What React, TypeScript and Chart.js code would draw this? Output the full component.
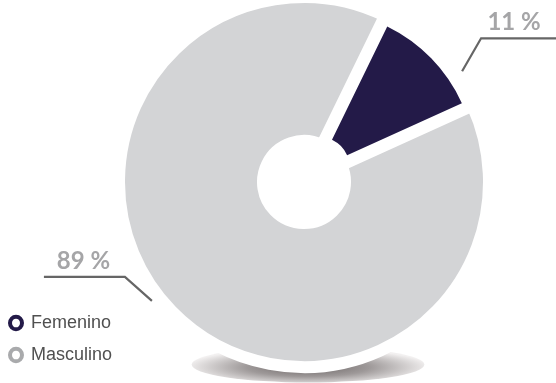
import React, { useEffect, useRef } from "react";
import { Chart, registerables } from "chart.js";

Chart.register(...registerables);

// ---- data ----
const categories = ["Masculino", "Femenino"];
const values = [89, 11];
const percentLabels = ["89 %", "11 %"];

// ---- styles ----
const sliceColors = ["#d3d4d6", "#231a48"];
const legendRingColors = ["#a9aaac", "#231a48"];
const EXPLODED_INDEX = 1;
const FEM_START_DEG = 26;

const CENTER_X = 304;
const CENTER_Y = 182;
const OUTER_R = 179;
const INNER_R = 47;
const GAP = 12;
const EXPLODE = 19.5;
const EXPLODED_OUTER = 158;
const EXPLODED_INNER = 32;

const LABEL_ANGLES = [232, 55];
const LEADER_GAP = 14;
const ELBOWS = [
  { dx: -27, dy: -24, len: -81, tshift: -1 },
  { dx: 19, dy: -33, len: 76, tshift: -5 },
];

const total = values.reduce((a, b) => a + b, 0);
const rotation = FEM_START_DEG - (values[0] / total) * 360;

const geometryPlugin = {
  id: "geometry",
  afterDatasetsUpdate(chart: any) {
    const meta = chart.getDatasetMeta(0);
    meta.data.forEach((el: any, i: number) => {
      if (i === EXPLODED_INDEX) {
        const mid = (el.startAngle + el.endAngle) / 2;
        el.x = CENTER_X + EXPLODE * Math.cos(mid);
        el.y = CENTER_Y + EXPLODE * Math.sin(mid);
        el.outerRadius = EXPLODED_OUTER;
        el.innerRadius = EXPLODED_INNER;
      } else {
        el.x = CENTER_X;
        el.y = CENTER_Y;
        el.outerRadius = OUTER_R + GAP / 2;
        el.innerRadius = INNER_R - GAP / 2;
      }
    });
  },
  beforeDatasetsDraw(chart: any) {
    const ctx = chart.ctx;
    const cx = CENTER_X + 4;
    const cy = CENTER_Y + OUTER_R * 1.02;
    const rx = OUTER_R * 0.65;
    const ry = OUTER_R * 0.1;
    ctx.save();
    ctx.translate(cx, cy);
    ctx.scale(1, ry / rx);
    const g = ctx.createRadialGradient(0, rx * 0.15, 0, 0, rx * 0.15, rx * 1.05);
    g.addColorStop(0, "#6c6666");
    g.addColorStop(0.5, "#9e9999");
    g.addColorStop(1, "#f2f0f0");
    ctx.fillStyle = g;
    ctx.beginPath();
    ctx.arc(0, 0, rx, 0, Math.PI * 2);
    ctx.fill();
    ctx.restore();
  },
  afterDatasetsDraw(chart: any) {
    const ctx = chart.ctx;
    ctx.save();
    percentLabels.forEach((txt, i) => {
      const a = ((LABEL_ANGLES[i] - 90) * Math.PI) / 180;
      const r = OUTER_R + LEADER_GAP;
      const sx = CENTER_X + r * Math.cos(a);
      const sy = CENTER_Y + r * Math.sin(a);
      const ex = sx + ELBOWS[i].dx;
      const ey = sy + ELBOWS[i].dy;
      const hx = ex + ELBOWS[i].len;
      ctx.strokeStyle = "#666666";
      ctx.lineWidth = 2.2;
      ctx.beginPath();
      ctx.moveTo(sx, sy);
      ctx.lineTo(ex, ey);
      ctx.lineTo(hx, ey);
      ctx.stroke();
      ctx.fillStyle = "#a5a5a7";
      ctx.font = "bold 24px Lato, 'Open Sans', sans-serif";
      ctx.textAlign = "center";
      ctx.textBaseline = "alphabetic";
      ctx.fillText(txt, (ex + hx) / 2 + ELBOWS[i].tshift, ey - 8);
    });
    ctx.restore();
  },
};

export default function App() {
  const ref = useRef<HTMLCanvasElement | null>(null);
  useEffect(() => {
    document.body.style.margin = "0";
    const chart = new Chart(ref.current as HTMLCanvasElement, {
      type: "doughnut",
      data: {
        labels: categories,
        datasets: [
          {
            data: values,
            backgroundColor: sliceColors,
            borderColor: "#ffffff",
            borderWidth: [GAP, 0],
            borderJoinStyle: "miter",
            hoverOffset: 0,
          } as any,
        ],
      },
      options: {
        animation: false,
        responsive: true,
        maintainAspectRatio: false,
        rotation: rotation,
        cutout: "26%",
        layout: { padding: { left: -4, bottom: 5 } },
        plugins: {
          tooltip: { enabled: false },
          legend: {
            position: "left",
            align: "end",
            reverse: true,
            labels: {
              usePointStyle: true,
              pointStyle: "circle",
              boxWidth: 12,
              boxHeight: 9,
              pointStyleWidth: 12,
              padding: 14,
              color: "#505050",
              font: { family: "'Liberation Sans', Arial, sans-serif", size: 18 },
              generateLabels: () =>
                categories.map((c, i) => ({
                  text: c,
                  fillStyle: "#ffffff",
                  strokeStyle: legendRingColors[i],
                  lineWidth: 4,
                  pointStyle: "circle",
                  hidden: false,
                  index: i,
                  datasetIndex: 0,
                  fontColor: "#505050",
                })),
            },
          } as any,
        },
      },
      plugins: [geometryPlugin],
    });
    return () => chart.destroy();
  }, []);
  return (
    <div style={{ position: "fixed", left: 0, top: 0, width: 556, height: 383 }}>
      <canvas ref={ref} />
    </div>
  );
}
